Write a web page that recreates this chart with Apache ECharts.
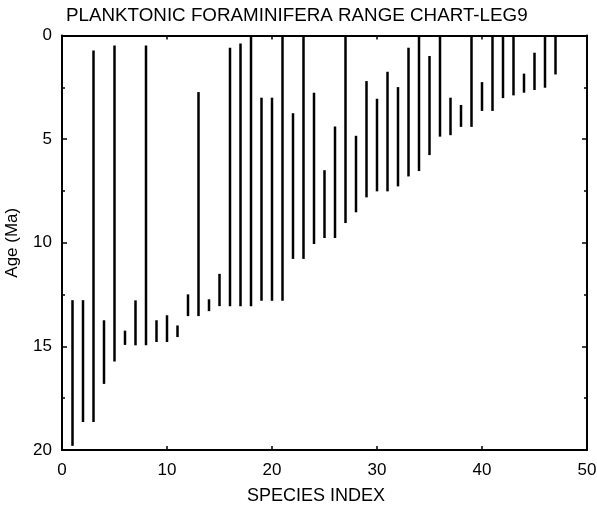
<!DOCTYPE html>
<html><head><meta charset="utf-8">
<script src="https://cdn.jsdelivr.net/npm/echarts@6/dist/echarts.min.js"></script>
<style>html,body{margin:0;padding:0;background:#fff}#c{width:597px;height:505px}</style>
</head><body><div id="c"></div>
<script>
var species = [1,2,3,4,5,6,7,8,9,10,11,12,13,14,15,16,17,18,19,20,21,22,23,24,25,26,27,28,29,30,31,32,33,34,35,36,37,38,39,40,41,42,43,44,45,46,47];
var youngestAge = [12.77,12.77,0.72,13.74,0.48,14.24,12.78,0.48,13.74,13.5,13.99,12.49,2.73,12.73,11.5,0.59,0.38,0,3.0,3.0,0,3.75,0,2.76,6.5,4.39,0,4.84,2.2,3.05,1.75,2.49,0.59,0,0.99,0,3.0,3.35,0,2.25,0,0,0,1.84,0.83,0,0];
var oldestAge = [19.8,18.65,18.65,16.81,15.73,14.93,14.95,14.95,14.79,14.79,14.55,13.54,13.54,13.3,13.06,13.06,13.06,13.06,12.8,12.8,12.8,10.78,10.78,10.06,9.77,9.77,9.05,8.53,7.81,7.52,7.52,7.28,6.8,6.54,5.77,4.88,4.81,4.41,4.41,3.64,3.64,3.02,2.89,2.76,2.63,2.52,1.88];
var xTicks = [0,10,20,30,40,50];
var yTicks = [0,5,10,15,20];

var data = species.map(function(s,i){return [s, youngestAge[i], oldestAge[i]];});
var font = 'Liberation Sans, Arial, sans-serif';
var chart = echarts.init(document.getElementById('c'));
var baseX = {type:'value', min:xTicks[0], max:xTicks[xTicks.length-1], interval:10,
  axisLine:{show:true, onZero:false, lineStyle:{color:'#000', width:2}},
  axisTick:{show:true, inside:true, length:4, lineStyle:{color:'#000', width:1.5}},
  splitLine:{show:false}};
var baseY = {type:'value', min:yTicks[0], max:yTicks[yTicks.length-1], interval:5, inverse:true,
  axisLine:{show:true, onZero:false, lineStyle:{color:'#000', width:2}},
  axisTick:{show:true, inside:true, length:5, lineStyle:{color:'#000', width:1.5}},
  minorTick:{show:true, splitNumber:2, length:3, lineStyle:{color:'#000', width:1.5}},
  splitLine:{show:false}};
chart.setOption({
  animation:false,
  title:{text:'PLANKTONIC FORAMINIFERA RANGE CHART-LEG9', left:61, top:1.5,
    textStyle:{fontFamily:font, fontSize:18.8, fontWeight:'normal', color:'#000'}},
  grid:{left:62, right:10, top:35.5, bottom:55, containLabel:false, outerBoundsMode:'none'},
  xAxis:[
    Object.assign({}, baseX, {position:'bottom', name:'SPECIES INDEX', nameLocation:'middle', nameGap:37,
      nameTextStyle:{fontFamily:font, fontSize:18, color:'#000', padding:[0,17,0,0]},
      axisLabel:{fontFamily:font, fontSize:17, color:'#000', margin:12}}),
    Object.assign({}, baseX, {position:'top', axisLabel:{show:false}})
  ],
  yAxis:[
    Object.assign({}, baseY, {position:'left', name:'Age (Ma)', nameLocation:'middle', nameGap:41, nameRotate:90,
      nameTextStyle:{fontFamily:font, fontSize:17, color:'#000'},
      axisLabel:{fontFamily:font, fontSize:17, color:'#000', margin:10, padding:[4,0,0,0]}}),
    Object.assign({}, baseY, {position:'right', axisLabel:{show:false}})
  ],
  series:[{
    type:'custom', xAxisIndex:0, yAxisIndex:0, data:data,
    encode:{x:0, y:[1,2]},
    renderItem:function(params, api){
      var p1 = api.coord([api.value(0), api.value(1)]);
      var p2 = api.coord([api.value(0), api.value(2)]);
      return {type:'line', shape:{x1:p1[0], y1:p1[1], x2:p2[0], y2:p2[1]},
        style:{stroke:'#000', lineWidth:2.5}};
    }
  }]
});
</script></body></html>
